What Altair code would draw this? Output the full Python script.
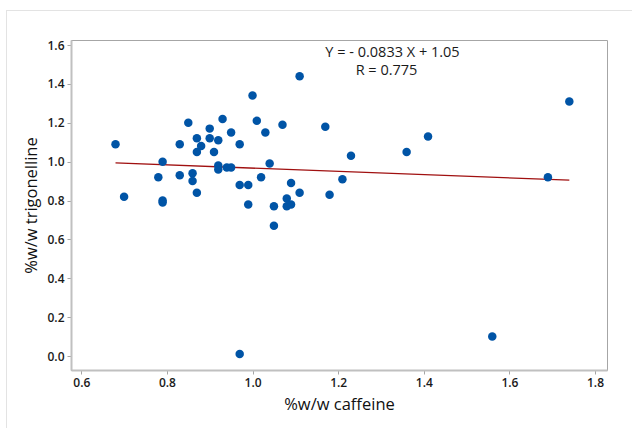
import altair as alt
import pandas as pd

caffeine = [0.68, 0.70, 0.78, 0.79, 0.79, 0.79, 0.83, 0.83, 0.85, 0.86, 0.86, 0.87,
            0.87, 0.87, 0.88, 0.90, 0.90, 0.91, 0.92, 0.92, 0.92, 0.93, 0.94, 0.95,
            0.95, 0.97, 0.97, 0.97, 0.99, 0.99, 1.00, 1.01, 1.02, 1.03, 1.04, 1.05,
            1.05, 1.07, 1.08, 1.08, 1.09, 1.09, 1.11, 1.11, 1.17, 1.18, 1.21, 1.23,
            1.36, 1.41, 1.56, 1.69, 1.74]
trigonelline = [1.09, 0.82, 0.92, 1.00, 0.80, 0.79, 1.09, 0.93, 1.20, 0.94, 0.90, 0.84,
                1.12, 1.05, 1.08, 1.17, 1.12, 1.05, 0.98, 0.96, 1.11, 1.22, 0.97, 0.97,
                1.15, 1.09, 0.88, 0.01, 0.88, 0.78, 1.34, 1.21, 0.92, 1.15, 0.99, 0.77,
                0.67, 1.19, 0.81, 0.77, 0.78, 0.89, 1.44, 0.84, 1.18, 0.83, 0.91, 1.03,
                1.05, 1.13, 0.10, 0.92, 1.31]

slope = -0.0833
intercept = 1.05
fit_x = [min(caffeine), max(caffeine)]
x_ticks = [0.6, 0.8, 1.0, 1.2, 1.4, 1.6, 1.8]
y_ticks = [0.0, 0.2, 0.4, 0.6, 0.8, 1.0, 1.2, 1.4, 1.6]
eq_lines = ["Y = - 0.0833 X + 1.05", "R = 0.775"]

df = pd.DataFrame({"caffeine": caffeine, "trigonelline": trigonelline})
fit_df = pd.DataFrame({"caffeine": fit_x,
                       "trigonelline": [slope * v + intercept for v in fit_x]})

FONT = "Open Sans"
xs = alt.Scale(domain=[0.576, 1.828], nice=False, zero=False)
ys = alt.Scale(domain=[-0.072, 1.626], nice=False, zero=False)

points = alt.Chart(df).mark_circle(size=72, opacity=1, color="#0054A6").encode(
    x=alt.X("caffeine:Q", scale=xs,
            axis=alt.Axis(title="%w/w caffeine", values=x_ticks, format=".1f",
                          titlePadding=8)),
    y=alt.Y("trigonelline:Q", scale=ys,
            axis=alt.Axis(title="%w/w trigonelline", values=y_ticks, format=".1f",
                          titlePadding=7)),
)

fit = alt.Chart(fit_df).mark_line(color="#A01010", strokeWidth=1.3).encode(
    x=alt.X("caffeine:Q", scale=xs),
    y=alt.Y("trigonelline:Q", scale=ys),
)

eq1 = alt.Chart(pd.DataFrame({"t": [eq_lines[0]]})).mark_text(
    font=FONT, fontSize=14.5, color="#1a1a1a", align="center", baseline="alphabetic"
).encode(text="t:N", x=alt.value(321.5), y=alt.value(16.8))

eq2 = alt.Chart(pd.DataFrame({"t": [eq_lines[1]]})).mark_text(
    font=FONT, fontSize=14.5, color="#1a1a1a", align="center", baseline="alphabetic"
).encode(text="t:N", x=alt.value(315.5), y=alt.value(34.5))

frame_left = alt.Chart(pd.DataFrame({"a": [0]})).mark_rule(
    color="#e3e3e3", strokeWidth=1
).encode(x=alt.value(-64.5), y=alt.value(-30), y2=alt.value(388))

frame_top = alt.Chart(pd.DataFrame({"a": [0]})).mark_rule(
    color="#e3e3e3", strokeWidth=1
).encode(x=alt.value(-64.5), x2=alt.value(561), y=alt.value(-29.5))

chart = alt.layer(frame_left, frame_top, fit, points, eq1, eq2).properties(
    width=536, height=330,
    autosize=alt.AutoSizeParams(type="none"),
    padding={"left": 71, "top": 40, "right": 25, "bottom": 58},
    background="white",
).configure_view(
    stroke="#a6a6a6", strokeWidth=1
).configure_axis(
    grid=False,
    domainColor="#c0c0c0", domainWidth=2,
    tickColor="#a6a6a6", tickSize=4, tickWidth=1,
    labelFont=FONT, labelFontSize=12, labelFontWeight=600, labelColor="#1a1a1a",
    labelPadding=3,
    titleFont=FONT, titleFontSize=16.5, titleFontWeight="normal", titleColor="#111111",
)

chart.save("out.html", embed_options={"renderer": "svg", "actions": False})
